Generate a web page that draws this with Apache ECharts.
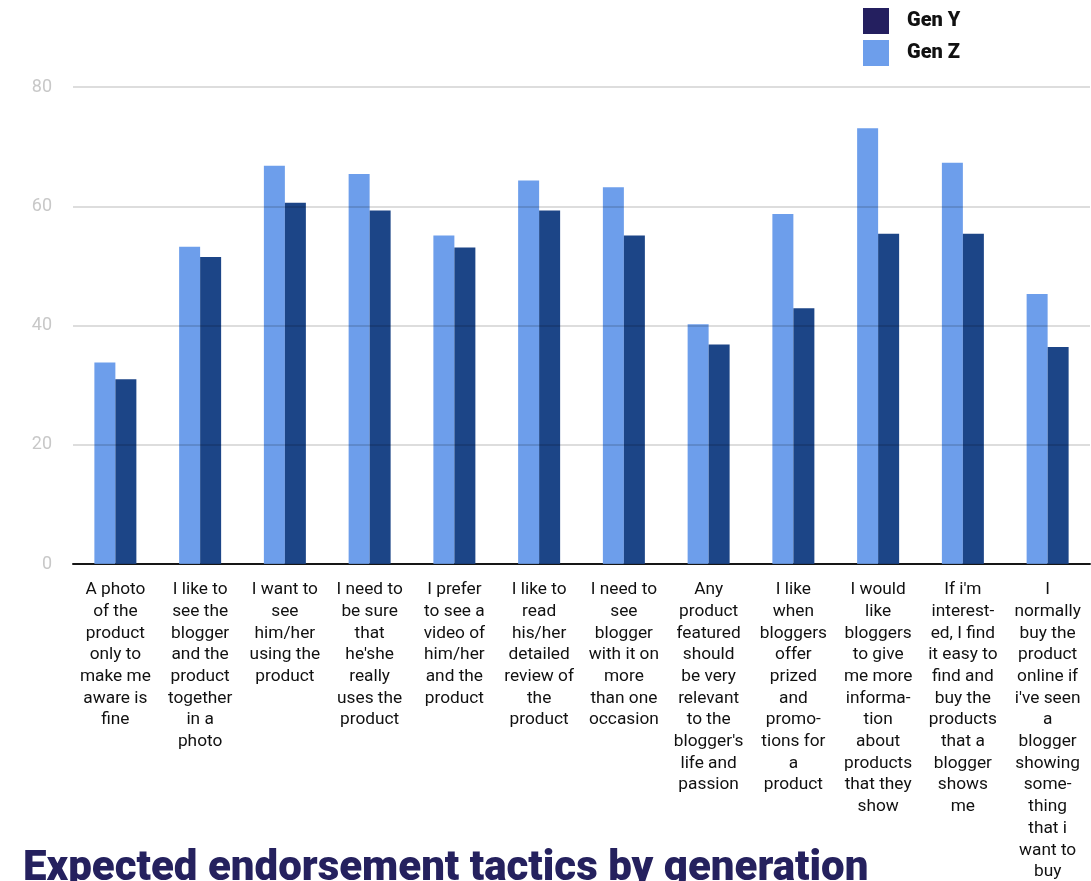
<!DOCTYPE html>
<html>
<head>
<meta charset="utf-8">
<script src="https://cdn.jsdelivr.net/npm/echarts@6/dist/echarts.min.js"></script>
<style>
  html, body { margin: 0; padding: 0; background: #fff; }
  #chart { width: 1091px; height: 881px; }
</style>
</head>
<body>
<div id="chart"></div>
<script>
// categories (already wrapped like the source)
const categories = [
  'A photo\nof the\nproduct\nonly to\nmake me\naware is\nfine',
  'I like to\nsee the\nblogger\nand the\nproduct\ntogether\nin a\nphoto',
  'I want to\nsee\nhim/her\nusing the\nproduct',
  'I need to\nbe sure\nthat\nhe\'she\nreally\nuses the\nproduct',
  'I prefer\nto see a\nvideo of\nhim/her\nand the\nproduct',
  'I like to\nread\nhis/her\ndetailed\nreview of\nthe\nproduct',
  'I need to\nsee\nblogger\nwith it on\nmore\nthan one\noccasion',
  'Any\nproduct\nfeatured\nshould\nbe very\nrelevant\nto the\nblogger\'s\nlife and\npassion',
  'I like\nwhen\nbloggers\noffer\nprized\nand\npromo-\ntions for\na\nproduct',
  'I would\nlike\nbloggers\nto give\nme more\ninforma-\ntion\nabout\nproducts\nthat they\nshow',
  'If i\'m\ninterest-\ned, I find\nit easy to\nfind and\nbuy the\nproducts\nthat a\nblogger\nshows\nme',
  'I\nnormally\nbuy the\nproduct\nonline if\ni\'ve seen\na\nblogger\nshowing\nsome-\nthing\nthat i\nwant to\nbuy'
]

// series values (%)
const genZ = [33.8, 53.2, 66.8, 65.4, 55.1, 64.3, 63.2, 40.2, 58.7, 73.1, 67.3, 45.3]
const genY = [31.0, 51.5, 60.6, 59.3, 53.1, 59.3, 55.1, 36.8, 42.9, 55.4, 55.4, 36.4]

const chart = echarts.init(document.getElementById('chart'))

chart.setOption({
  animation: false,
  title: {
    text: 'Expected endorsement tactics by generation',
    left: 18,
    top: 843,
    textStyle: {
      fontFamily: 'Roboto',
      fontWeight: 900,
      fontSize: 42,
      color: '#25215e',
    },
  },
  legend: {
    orient: 'vertical',
    left: 858,
    top: 3,
    itemWidth: 26,
    itemHeight: 26,
    itemGap: 6,
    icon: 'rect',
    textStyle: {
      fontFamily: 'Roboto',
      fontWeight: 900,
      fontSize: 20,
      color: '#111',
      padding: [0, 0, 0, 13],
    },
    data: [
      { name: 'Gen Y', itemStyle: { color: '#241f5f' } },
      { name: 'Gen Z', itemStyle: { color: '#6d9eeb' } },
    ],
  },
  grid: {
    left: 73,
    right: 1,
    top: 87,
    bottom: 317,
    outerBoundsMode: 'none',
    containLabel: false,
  },
  xAxis: {
    type: 'category',
    data: categories,
    axisTick: { show: false },
    axisLine: { lineStyle: { color: '#1a1a1a', width: 2 } },
    axisLabel: {
      interval: 0,
      margin: 15,
      fontFamily: 'Roboto',
      fontSize: 17.3,
      lineHeight: 21.7,
      color: '#111',
      align: 'center',
      verticalAlign: 'top',
    },
  },
  yAxis: {
    type: 'value',
    min: 0,
    max: 80,
    interval: 20,
    z: 3,
    axisLine: { show: false },
    axisTick: { show: false },
    axisLabel: {
      margin: 21,
      fontFamily: 'Roboto',
      fontSize: 18,
      color: '#c8c8c8',
    },
    splitLine: {
      lineStyle: { color: 'rgba(0,0,0,0.18)', width: 1.5 },
    },
  },
  series: [
    {
      name: 'Gen Z',
      type: 'bar',
      data: genZ,
      barWidth: 21,
      barGap: '0%',
      itemStyle: { color: '#6d9eeb' },
    },
    {
      name: 'Gen Y',
      type: 'bar',
      data: genY,
      barWidth: 21,
      barGap: '0%',
      itemStyle: { color: '#1c4587' },
    },
  ],
})
</script>
</body>
</html>
